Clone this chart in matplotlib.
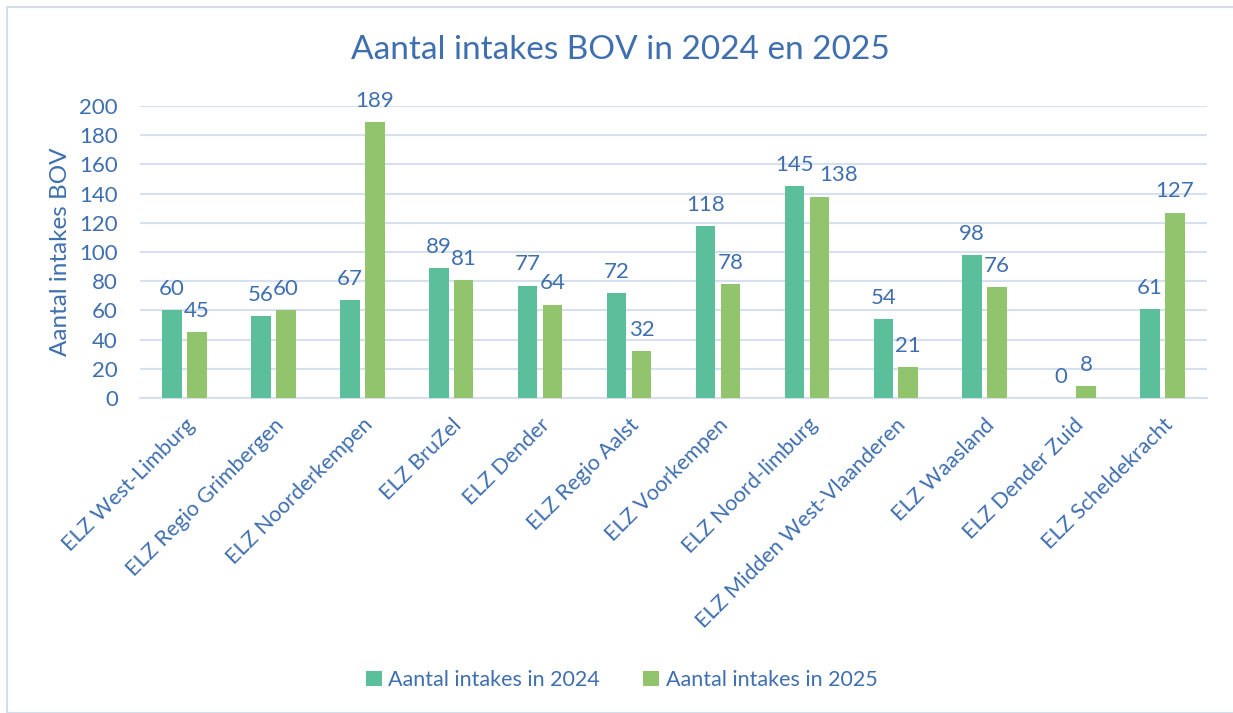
import numpy as np
import matplotlib
matplotlib.use("Agg")
from matplotlib import pyplot as plt
from matplotlib.patches import Rectangle

categories = ["ELZ West-Limburg", "ELZ Regio Grimbergen", "ELZ Noorderkempen",
              "ELZ BruZel", "ELZ Dender", "ELZ Regio Aalst", "ELZ Voorkempen",
              "ELZ Noord-limburg", "ELZ Midden West-Vlaanderen", "ELZ Waasland",
              "ELZ Dender Zuid", "ELZ Scheldekracht"]
intakes_2024 = [60, 56, 67, 89, 77, 72, 118, 145, 54, 98, 0, 61]
intakes_2025 = [45, 60, 189, 81, 64, 32, 78, 138, 21, 76, 8, 127]
series_names = ["Aantal intakes in 2024", "Aantal intakes in 2025"]
yticks = [0, 20, 40, 60, 80, 100, 120, 140, 160, 180, 200]


def main():
    plt.rcParams['font.family'] = ['Lato', 'DejaVu Sans']
    txt = "#3F6FAF"
    c2024 = "#5BBF9C"
    c2025 = "#92C46E"
    grid = "#D6E0EE"

    fig = plt.figure(figsize=(12.33, 7.13), dpi=100)
    fig.patches.append(Rectangle((7 / 1233, 0), 1.0, 1 - 7 / 713, transform=fig.transFigure,
                                 fill=False, edgecolor="#D3DEEC", linewidth=1.5))
    ax = fig.add_axes([140 / 1233, 1 - 398 / 713, (1207 - 140) / 1233, (398 - 106) / 713])

    x = np.arange(len(categories))
    w = 0.22
    b1 = ax.bar(x - 0.14, intakes_2024, w, color=c2024, label=series_names[0], zorder=3)
    b2 = ax.bar(x + 0.14, intakes_2025, w, color=c2025, label=series_names[1], zorder=3)
    for i, (r1, r2) in enumerate(zip(b1, b2)):
        h1, h2 = r1.get_height(), r2.get_height()
        # push the second label aside when two wide labels collide
        dx = 14 if (h1 >= 100 and h2 >= 100 and abs(h1 - h2) < 12) else 0
        for r, d in ((r1, 0), (r2, dx)):
            ax.annotate(str(int(r.get_height())), (r.get_x() + r.get_width() / 2, r.get_height()),
                        xytext=(d, 8), textcoords="offset points", ha="center", va="bottom",
                        fontsize=16, color=txt)

    ax.set_xlim(-0.5, len(categories) - 0.5)
    ax.set_ylim(0, 200)
    ax.set_yticks(yticks)
    ax.yaxis.grid(True, color=grid, linewidth=1.5, zorder=0)
    ax.set_axisbelow(True)
    for s in ("top", "right", "left"):
        ax.spines[s].set_visible(False)
    ax.spines["bottom"].set_color(grid)
    ax.spines["bottom"].set_linewidth(1.5)
    ax.tick_params(axis="both", length=0, colors=txt, labelsize=16)
    ax.tick_params(axis="y", pad=16)
    ax.set_xticks(x)
    ax.set_xticklabels(categories, rotation=45, ha="right", rotation_mode="anchor", fontsize=15.5)
    ax.tick_params(axis="x", pad=12)
    ax.set_ylabel("Aantal intakes BOV", fontsize=17.5, color=txt, labelpad=6)

    fig.text(0.503, 1 - 50 / 713, "Aantal intakes BOV in 2024 en 2025", ha="center", va="center",
             fontsize=24, color=txt)
    fig.legend(loc="center", bbox_to_anchor=(0.504, 1 - 680 / 713), ncol=2, frameon=False,
               fontsize=15.5, labelcolor=txt, handlelength=0.75, handleheight=0.75,
               handletextpad=0.3, columnspacing=2.0)

    fig.savefig("out.png", dpi=100)


if __name__ == '__main__':
    main()
